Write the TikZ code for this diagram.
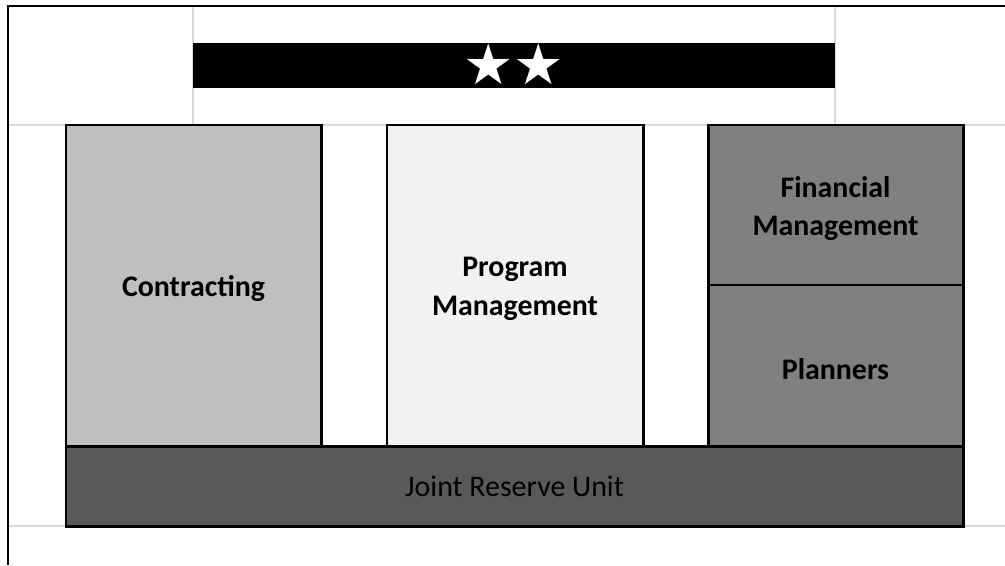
\documentclass[tikz,border=0pt]{standalone}
\usepackage{fontspec}
\setmainfont{Carlito}
\newfontfamily\starfont{DejaVu Sans}
\usetikzlibrary{positioning}
\definecolor{gridgray}{HTML}{D9D9D9}
\definecolor{contractgray}{HTML}{BFBFBF}
\definecolor{programgray}{HTML}{F2F2F2}
\definecolor{staffgray}{HTML}{808080}
\definecolor{reservegray}{HTML}{595959}
\tikzset{
  unitbox/.style={draw=black, line width=1.7pt, inner sep=0pt},
  unittext/.style={align=center, inner sep=0pt, yshift=-0.7mm,
    font=\bfseries\fontsize{17}{22}\selectfont},
  gridline/.style={draw=gridgray, line width=1.2pt},
}
\begin{document}
\begin{tikzpicture}[x=0.2mm, y=-0.2mm]
    \useasboundingbox (0,0) rectangle (1005,565);
    % sheet lines
    \coordinate (tl) at (8,6);
    \coordinate (tr) at (1005,6);
    \coordinate (bl) at (8,565);
    \draw[gridline] (8,125) -- (1005,125);
    \draw[gridline] (8,526) -- (1005,526);
    \draw[gridline] (193,6) -- (193,125);
    \draw[gridline] (835,6) -- (835,125);
    \draw[line width=1.5pt] (bl) -- (tl) -- (tr);
    % command bar
    \node[fill=black, minimum width=128.4mm, minimum height=8.6mm, inner sep=0pt] (command) at (514,65.5)
        {\color{white}\starfont\fontsize{32}{32}\selectfont\raisebox{2pt}{★★}};
    % units
    \node[unitbox, fill=contractgray, minimum width=51mm, minimum height=64.2mm] (contracting) at (193.5,285.5) {};
    \node[unitbox, fill=programgray, minimum width=51.2mm, minimum height=64.2mm] (program) at (515,285.5) {};
    \node[unitbox, fill=staffgray, minimum width=51mm, minimum height=32mm] (financial) at (835.5,205) {};
    \node[unitbox, fill=staffgray, minimum width=51mm, minimum height=32.2mm] (planners) at (835.5,365.5) {};
    \node[unitbox, fill=reservegray, minimum width=179.4mm, minimum height=16mm] (reserve) at (514.5,486) {};
    % labels
    \node[unittext] (contractingtext) at (contracting) {Contracting};
    \node[unittext] (programtext) at (program) {Program\\Management};
    \node[unittext] (financialtext) at (financial) {Financial\\Management};
    \node[unittext] (plannerstext) at (planners) {Planners};
    \node[unittext, font=\fontsize{17}{22}\selectfont, yshift=0.7mm] (reservetext) at (reserve) {Joint Reserve Unit};
\end{tikzpicture}
\end{document}
